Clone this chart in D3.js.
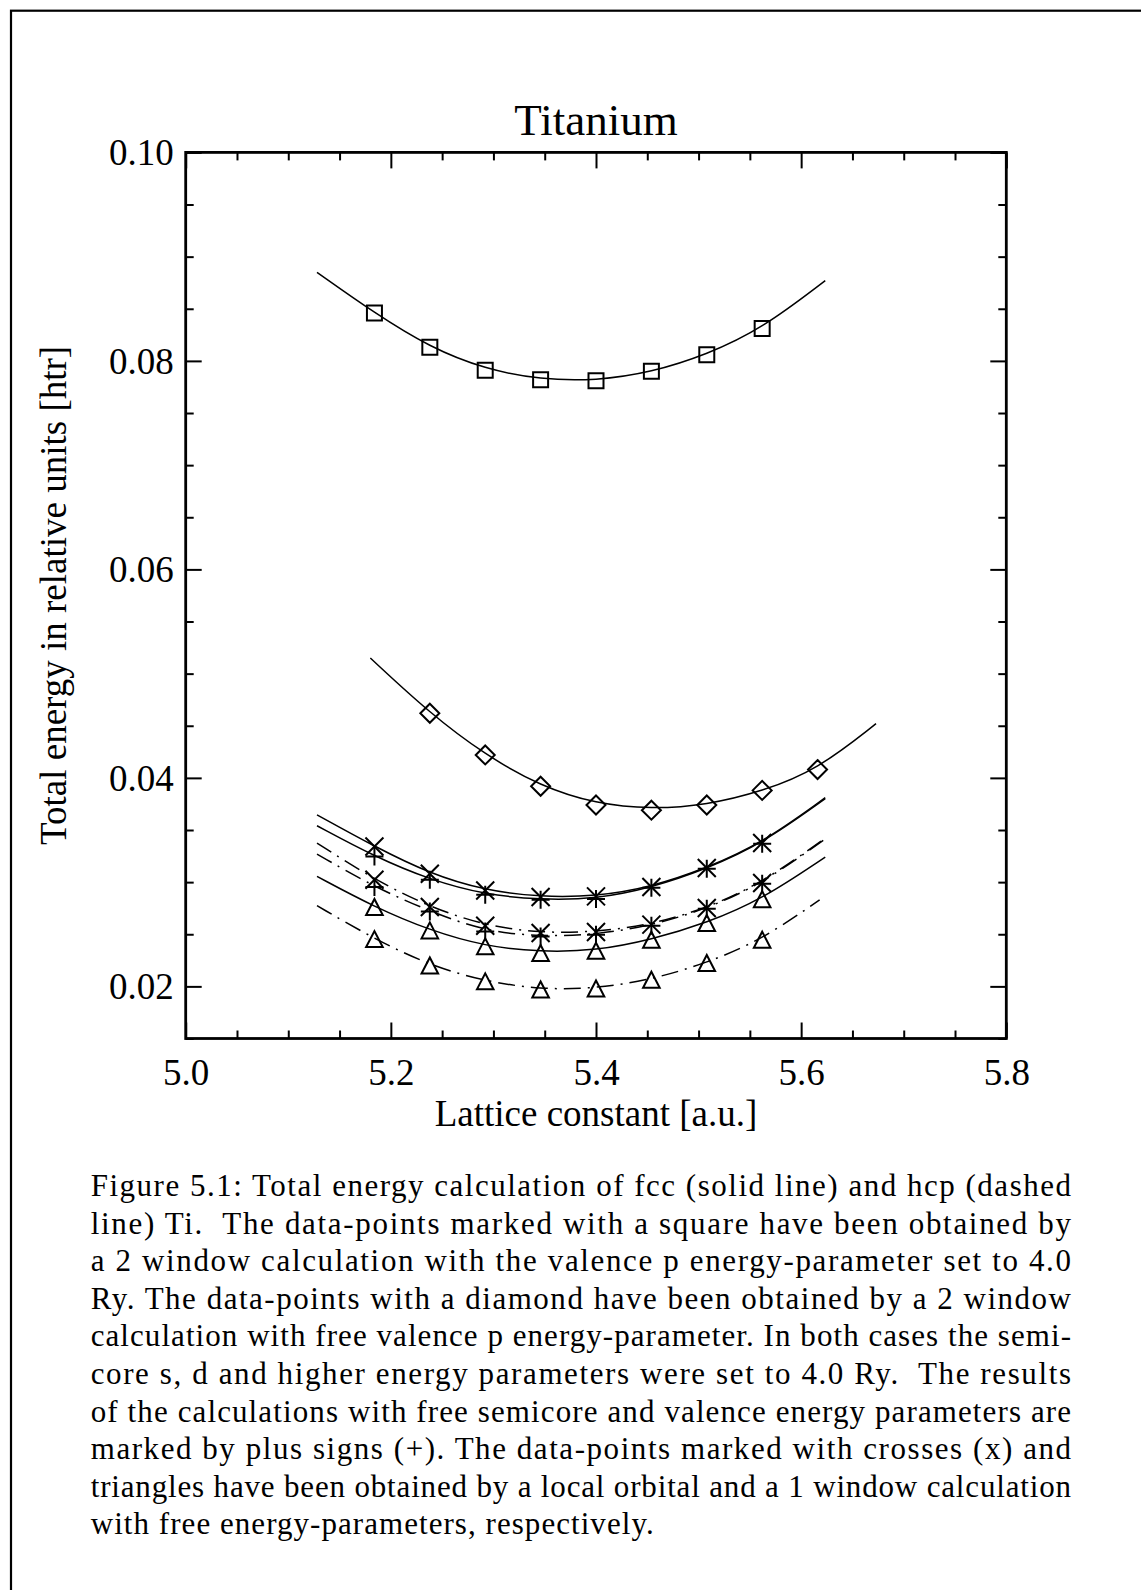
<!DOCTYPE html>
<html>
<head>
<meta charset="utf-8">
<script src="https://cdn.jsdelivr.net/npm/d3@7"></script>
<style>
  html, body { margin: 0; padding: 0; background: #fff; }
  svg { display: block; }
</style>
</head>
<body>
<svg id="chart" width="1141" height="1590"></svg>
<script>
// ---------- data ----------
const title = "Titanium";
const xLabel = "Lattice constant [a.u.]";
const yLabel = "Total energy in relative units [htr]";
const xMajorTicks = [5.0, 5.2, 5.4, 5.6, 5.8];
const xTickLabels = ["5.0", "5.2", "5.4", "5.6", "5.8"];
const yMajorTicks = [0.02, 0.04, 0.06, 0.08, 0.10];
const yTickLabels = ["0.02", "0.04", "0.06", "0.08", "0.10"];

// lattice constants of the calculated points
const latticeA = [5.184, 5.238, 5.292, 5.346, 5.400, 5.454, 5.508, 5.562];
const latticeDiamond = [5.238, 5.292, 5.346, 5.400, 5.454, 5.508, 5.562, 5.616];

// data points
const squareE   = [0.0846, 0.0813, 0.0791, 0.0782, 0.0781, 0.0790, 0.0806, 0.0831];
const diamondE  = [0.0462, 0.0422, 0.0392, 0.0374, 0.0369, 0.0374, 0.0388, 0.0408];
const crossFccE = [0.03342, 0.03081, 0.02920, 0.02857, 0.02863, 0.02953, 0.03135, 0.03375];
const plusFccE  = [0.03246, 0.03023, 0.02879, 0.02831, 0.02838, 0.02946, 0.03128, 0.03368];
const crossHcpE = [0.03023, 0.02761, 0.02582, 0.02512, 0.02522, 0.02592, 0.02752, 0.02991];
const plusHcpE  = [0.02953, 0.02719, 0.02527, 0.02479, 0.02496, 0.02582, 0.02745, 0.02985];
const triFccE   = [0.02761, 0.02537, 0.02384, 0.02320, 0.02342, 0.02448, 0.02608, 0.02836];
const triHcpE   = [0.02454, 0.02201, 0.02048, 0.01970, 0.01980, 0.02064, 0.02224, 0.02448];

// fitted curves
const fitX        = [5.128, 5.184, 5.238, 5.292, 5.346, 5.400, 5.454, 5.508, 5.562, 5.6235];
const fitDiamondX = [5.180, 5.238, 5.292, 5.346, 5.400, 5.454, 5.508, 5.562, 5.616, 5.673];
const fitTriHcpX  = [5.128, 5.184, 5.238, 5.292, 5.346, 5.400, 5.454, 5.508, 5.562, 5.618];
const fitSquare   = [0.0885, 0.0846, 0.0813, 0.0792, 0.0782, 0.0781, 0.0789, 0.0806, 0.0831, 0.0877];
const fitDiamond  = [0.0515, 0.0462, 0.0422, 0.0392, 0.0375, 0.0370, 0.0374, 0.0387, 0.0408, 0.0452];
const fitCrossFcc = [0.03646, 0.03342, 0.03081, 0.02920, 0.02857, 0.02863, 0.02953, 0.03135, 0.03375, 0.0381];
const fitPlusFcc  = [0.03541, 0.03246, 0.03023, 0.02879, 0.02831, 0.02838, 0.02946, 0.03128, 0.03368, 0.0380];
const fitCrossHcp = [0.03375, 0.03023, 0.02761, 0.02582, 0.02512, 0.02522, 0.02592, 0.02752, 0.02991, 0.03423];
const fitPlusHcp  = [0.03269, 0.02953, 0.02719, 0.02527, 0.02479, 0.02496, 0.02582, 0.02745, 0.02985, 0.03415];
const fitTriFcc   = [0.03055, 0.02761, 0.02537, 0.02384, 0.02330, 0.02342, 0.02448, 0.02608, 0.02836, 0.03241];
const fitTriHcp   = [0.02774, 0.02454, 0.02201, 0.02048, 0.01970, 0.01980, 0.02064, 0.02224, 0.02448, 0.0283];

const captionLines = [
  "Figure 5.1: Total energy calculation of fcc (solid line) and hcp (dashed",
  "line) Ti.  The data-points marked with a square have been obtained by",
  "a 2 window calculation with the valence p energy-parameter set to 4.0",
  "Ry. The data-points with a diamond have been obtained by a 2 window",
  "calculation with free valence p energy-parameter. In both cases the semi-",
  "core s, d and higher energy parameters were set to 4.0 Ry.  The results",
  "of the calculations with free semicore and valence energy parameters are",
  "marked by plus signs (+). The data-points marked with crosses (x) and",
  "triangles have been obtained by a local orbital and a 1 window calculation",
  "with free energy-parameters, respectively."
];

// ---------- drawing ----------
const svg = d3.select("#chart");
const FONT = "'Liberation Serif', 'Times New Roman', serif";

// page border (top and left visible)
svg.append("rect").attr("x", 11).attr("y", 10.7).attr("width", 1200).attr("height", 1700)
  .attr("fill", "none").attr("stroke", "#000").attr("stroke-width", 2.2);

const L = 185.7, R = 1006.3, T = 152.4, B = 1038.5;
const x = d3.scaleLinear().domain([5.0, 5.8]).range([L, R]);
const y = d3.scaleLinear().domain([0.015, 0.10]).range([B, T]);

const xMinor = d3.range(0, 17).map(i => 5.0 + i * 0.05).filter(v => !xMajorTicks.some(m => Math.abs(m - v) < 1e-6));
const yMinor = d3.range(0, 18).map(i => 0.015 + i * 0.005).filter(v => !yMajorTicks.some(m => Math.abs(m - v) < 1e-6));

function styleAxis(g) {
  g.select(".domain").remove();
  g.selectAll(".tick line").attr("stroke", "#000").attr("stroke-width", 2);
  g.selectAll("text").attr("font-family", FONT).attr("font-size", 37).attr("fill", "#000");
}

// bottom
svg.append("g").attr("transform", `translate(0,${B})`)
  .call(d3.axisBottom(x).tickValues(xMajorTicks).tickSize(-16).tickPadding(20)
    .tickFormat((d, i) => xTickLabels[i]))
  .call(styleAxis);
svg.append("g").attr("transform", `translate(0,${B})`)
  .call(d3.axisBottom(x).tickValues(xMinor).tickSize(-8).tickFormat(""))
  .call(styleAxis);
// top
svg.append("g").attr("transform", `translate(0,${T})`)
  .call(d3.axisTop(x).tickValues(xMajorTicks).tickSize(-16).tickFormat(""))
  .call(styleAxis);
svg.append("g").attr("transform", `translate(0,${T})`)
  .call(d3.axisTop(x).tickValues(xMinor).tickSize(-8).tickFormat(""))
  .call(styleAxis);
// left
svg.append("g").attr("transform", `translate(${L},0)`)
  .call(d3.axisLeft(y).tickValues(yMajorTicks).tickSize(-16).tickPadding(12)
    .tickFormat((d, i) => yTickLabels[i]))
  .call(styleAxis)
  .call(g => g.selectAll("text").attr("dy", "0.33em"));
svg.append("g").attr("transform", `translate(${L},0)`)
  .call(d3.axisLeft(y).tickValues(yMinor).tickSize(-8).tickFormat(""))
  .call(styleAxis);
// right
svg.append("g").attr("transform", `translate(${R},0)`)
  .call(d3.axisRight(y).tickValues(yMajorTicks).tickSize(-16).tickFormat(""))
  .call(styleAxis);
svg.append("g").attr("transform", `translate(${R},0)`)
  .call(d3.axisRight(y).tickValues(yMinor).tickSize(-8).tickFormat(""))
  .call(styleAxis);

// frame
svg.append("rect").attr("x", L).attr("y", T).attr("width", R - L).attr("height", B - T)
  .attr("fill", "none").attr("stroke", "#000").attr("stroke-width", 2.8);

// title & labels
svg.append("text").attr("x", (L + R) / 2).attr("y", 135).attr("text-anchor", "middle")
  .attr("font-family", FONT).attr("font-size", 45).text(title);
svg.append("text").attr("x", (L + R) / 2).attr("y", 1126).attr("text-anchor", "middle")
  .attr("font-family", FONT).attr("font-size", 37).text(xLabel);
svg.append("text").attr("transform", `translate(66,${(T + B) / 2}) rotate(-90)`)
  .attr("text-anchor", "middle").attr("font-family", FONT).attr("font-size", 37).text(yLabel);

// curves
const line = d3.line().x(d => x(d[0])).y(d => y(d[1])).curve(d3.curveBasis);
const DASH = "17,7,2,7";
const curves = [
  { xs: fitX, ys: fitSquare, dash: null },
  { xs: fitDiamondX, ys: fitDiamond, dash: null },
  { xs: fitX, ys: fitCrossFcc, dash: null },
  { xs: fitX, ys: fitPlusFcc, dash: null },
  { xs: fitX, ys: fitCrossHcp, dash: DASH },
  { xs: fitX, ys: fitPlusHcp, dash: DASH },
  { xs: fitX, ys: fitTriFcc, dash: null },
  { xs: fitTriHcpX, ys: fitTriHcp, dash: DASH }
];
svg.append("g").selectAll("path").data(curves).join("path")
  .attr("d", c => line(c.xs.map((v, i) => [v, c.ys[i]])))
  .attr("fill", "none").attr("stroke", "#000").attr("stroke-width", 1.5)
  .attr("stroke-dasharray", c => c.dash);

// markers
const symbolPath = {
  square: "M-7.5,-7.5H7.5V7.5H-7.5Z",
  diamond: "M0,-9.5L9.5,0L0,9.5L-9.5,0Z",
  cross: "M-9,-9L9,9M-9,9L9,-9",
  plus: "M-9,0H9M0,-9V9",
  triangle: "M-8.3,8L0,-8L8.3,8Z"
};
const markerSets = [
  { xs: latticeA, ys: squareE, sym: "square" },
  { xs: latticeDiamond, ys: diamondE, sym: "diamond" },
  { xs: latticeA, ys: crossFccE, sym: "cross" },
  { xs: latticeA, ys: plusFccE, sym: "plus" },
  { xs: latticeA, ys: crossHcpE, sym: "cross" },
  { xs: latticeA, ys: plusHcpE, sym: "plus" },
  { xs: latticeA, ys: triFccE, sym: "triangle" },
  { xs: latticeA, ys: triHcpE, sym: "triangle" }
];
const mg = svg.append("g");
markerSets.forEach(s => {
  mg.append("g").selectAll("path").data(s.xs.map((v, i) => [v, s.ys[i]])).join("path")
    .attr("transform", d => `translate(${x(d[0])},${y(d[1])})`)
    .attr("d", symbolPath[s.sym])
    .attr("fill", "none").attr("stroke", "#000").attr("stroke-width", 2);
});

// caption
const capLeft = 90.7, capRight = 1071, capTop = 1196, capStep = 37.6;
const cap = svg.append("g").attr("font-family", FONT).attr("font-size", 31).attr("fill", "#000");
captionLines.forEach((t, i) => {
  const el = cap.append("text").attr("x", capLeft).attr("y", capTop + i * capStep)
    .attr("xml:space", "preserve").style("white-space", "pre").text(t);
  const len = i < captionLines.length - 1 ? capRight - capLeft : 563;
  el.attr("textLength", len).attr("lengthAdjust", "spacing");
});
</script>
</body>
</html>
